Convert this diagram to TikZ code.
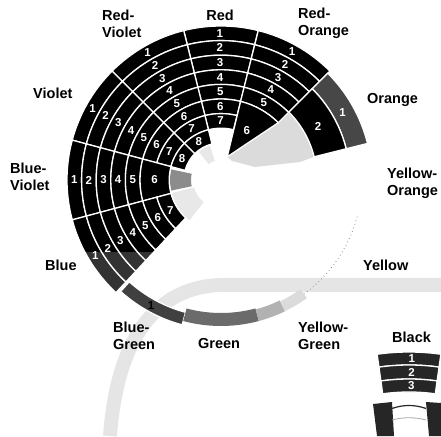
\documentclass[tikz,border=0pt]{standalone}
\usepackage{fontspec}
\setmainfont{Liberation Sans}
\tikzset{
  cell/.style={fill=black, draw=white, line width=1.3pt, line join=miter},
  num/.style={text=white, font=\fontsize{11.5}{13}\selectfont\bfseries, inner sep=0pt},
  lab/.style={font=\fontsize{14.5}{16.5}\selectfont\bfseries, inner sep=0pt, align=left, anchor=north west},
}
\newcommand\annsec[5][]{\path[cell,#1] (#2:#5) arc[start angle=#2,end angle=#3,radius=#5] -- (#3:#4) arc[start angle=#3,end angle=#2,radius=#4] -- cycle;}
\newcommand\ringcells[4][]{\foreach \k in {1,...,#4}{\pgfmathsetmacro\rOut{154-14.6*(\k-1)}\pgfmathsetmacro\rIn{154-14.6*\k}\annsec[#1]{#2}{#3}{\rIn}{\rOut}}}
\newcommand\ringnums[3]{\foreach \k in {1,...,#3}{\node[num] (#1\k) at ({#2}:{154-14.6*(\k-0.5)}) {\k};}}
\begin{document}
\begin{tikzpicture}[x=1pt,y=1pt]
\useasboundingbox (0,0) rectangle (441,436);
% faint watermark
\draw[black!10, line width=14pt] (441,151) -- (220,151) .. controls (165,149) and (118,110) .. (110,0);
\begin{scope}[shift={(221,256)}]
  % light speckled areas
  \path[fill=black!14] (75:24) -- (45:81) -- (45:96) arc[start angle=45,end angle=14,radius=96] -- (79,18) -- (34,13) -- (11,19) -- cycle;
  \path[fill=black!9] (195:51) arc[start angle=195,end angle=232,radius=51] -- (232:28) arc[start angle=232,end angle=195,radius=28] -- cycle;
  \path[fill=black!9] (108:36) arc[start angle=108,end angle=128,radius=36] -- (128:20) arc[start angle=128,end angle=108,radius=20] -- cycle;
  \path[fill=black!45] (168:51) arc[start angle=168,end angle=192,radius=51] -- (192:30) arc[start angle=192,end angle=168,radius=30] -- cycle;
  % Red
  \ringcells{76}{104}{7}
  \ringnums{R}{90.5}{7}
  % Red-Violet
  \ringcells{104}{135}{8}
  \ringnums{RV}{120}{8}
  % Violet
  \ringcells{135}{165}{8}
  \ringnums{V}{151}{8}
  % Blue-Violet
  \ringcells{165}{195}{5}
  \annsec{165}{195}{51.8}{81}
  \ringnums{BV}{180}{5}
  \node[num] (BV6) at (180:66.4) {6};
  % Blue
  \ringcells{195}{227}{7}
  \begin{scope}
    \clip (-200,-73) rectangle (0,-200);
    \ringcells[fill=black!80]{195}{227}{7}
  \end{scope}
  \ringnums{B}{211}{7}
  % Red-Orange
  \ringcells{45}{76}{5}
  \path[cell] (76:81) arc[start angle=76,end angle=45,radius=81] -- (75:24) -- cycle;
  \ringnums{RO}{61}{5}
  \node[num] (RO6) at (62.5:56) {6};
  % Orange
  \annsec[fill=black!72]{14}{45}{129}{151}
  \annsec{14}{45}{96}{129}
  \node[num] (O1) at (29:139) {1};
  \node[num] (O2) at (29:111) {2};
  % Blue-Green
  \annsec[fill=black!75]{228}{255}{137}{150}
  \node[num, text=black] (BG1) at (241:144) {1};
  % Green
  \annsec[fill=black!58, draw=none]{255}{285}{133}{146}
  % Yellow-Green
  \annsec[fill=black!30, draw=none]{285}{296}{134}{146}
  \annsec[fill=black!14, draw=none]{296}{306}{135}{146}
  % Yellow dotted trail
  \draw[black!45, line width=0.8pt, dash pattern=on 0.8pt off 3pt] (306:141) arc[start angle=306,end angle=345,radius=141];
\end{scope}
% labels
\node[lab] (lRV) at (102,426) {Red-\\Violet};
\node[lab, anchor=north] (lR) at (220,426) {Red};
\node[lab] (lRO) at (298,428) {Red-\\Orange};
\node[lab] (lO) at (367,343) {Orange};
\node[lab] (lYO) at (387,268) {Yellow-\\Orange};
\node[lab] (lY) at (363,176) {Yellow};
\node[lab] (lYG) at (298,114) {Yellow-\\Green};
\node[lab] (lG) at (198,98) {Green};
\node[lab] (lBG) at (113,114) {Blue-\\Green};
\node[lab] (lB) at (45,176) {Blue};
\node[lab] (lBV) at (10,273) {Blue-\\Violet};
\node[lab] (lV) at (33,348) {Violet};
\node[lab] (lBk) at (392,104) {Black};
% black legend fan
\begin{scope}[shift={(409,-145)}]
  \annsec[fill=black!85]{82}{98}{216}{229}
  \annsec[fill=black!85]{82}{98}{202}{216}
  \annsec[fill=black!85]{82}{98}{189}{202}
  \node[num] (K1) at (89.3:222.5) {1};
  \node[num] (K2) at (89.3:209) {2};
  \node[num] (K3) at (89.3:195.5) {3};
\end{scope}
\path[fill=black!85] (373,32) -- (392,34) -- (394,0) -- (377,0) -- cycle;
\path[fill=black!85] (426,34) -- (441,33) -- (441,0) -- (429,0) -- cycle;
\draw[black!85, line width=1.2pt] (392,27.5) .. controls (403,31.5) and (415,31.5) .. (426,27.5);
\draw[black!35, line width=0.8pt] (392,16) .. controls (403,19) and (415,19) .. (426,16);
\end{tikzpicture}
\end{document}
